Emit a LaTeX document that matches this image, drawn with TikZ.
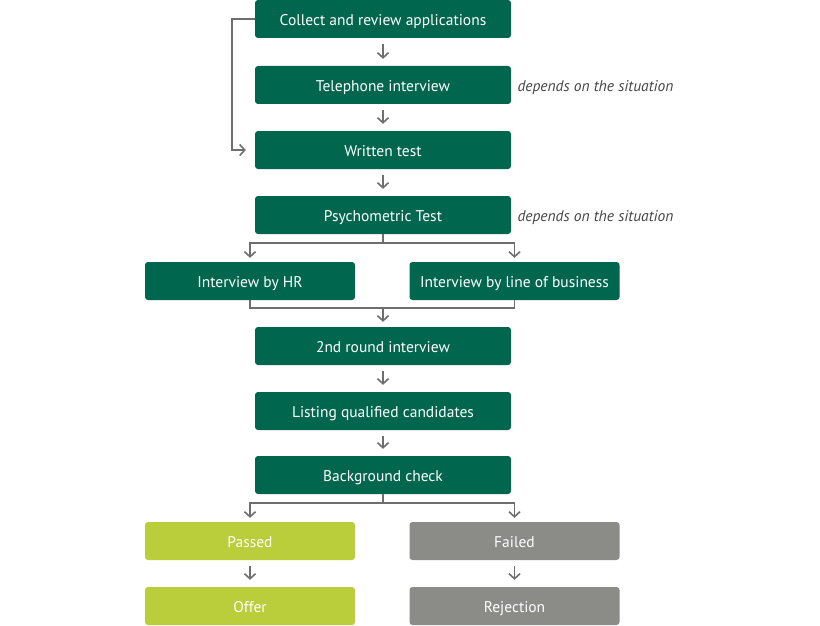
\documentclass[tikz,border=0pt]{standalone}
\usepackage{fontspec}
\setmainfont{PT Sans}
\usetikzlibrary{arrows.meta}
\definecolor{boxgreen}{RGB}{0,102,78}
\definecolor{passgreen}{RGB}{186,205,58}
\definecolor{failgray}{RGB}{139,140,136}
\definecolor{linegray}{RGB}{110,110,110}
\definecolor{notegray}{RGB}{70,70,70}
\begin{document}
\begin{tikzpicture}[x=1pt, y=-1pt]
\tikzstyle{stage} = [fill=boxgreen, text=white, rounded corners=3pt, minimum width=256pt, minimum height=38pt, inner sep=0pt, text height=15pt, text depth=2pt, font=\fontsize{15.5}{18}\selectfont];
\tikzstyle{half} = [stage, minimum width=210pt];
\tikzstyle{pass} = [half, fill=passgreen];
\tikzstyle{fail} = [half, fill=failgray];
\tikzstyle{note} = [anchor=west, text=notegray, text height=15pt, text depth=2pt, font=\fontsize{15.5}{18}\selectfont\itshape];
\tikzstyle{link} = [draw=linegray, line width=1.6pt, -{Straight Barb[length=5pt, width=11pt]}, shorten <=6pt, shorten >=7pt];
\tikzstyle{wire} = [draw=linegray, line width=1.6pt];
\fill[white] (0,0) rectangle (820,626);
\useasboundingbox (0,0) rectangle (820,626);
% main column
\node[stage] (collect) at (383, 19) {Collect and review applications};
\node[stage] (phone) at (383, 85) {Telephone interview};
\node[stage] (written) at (383, 150) {Written test};
\node[stage] (psych) at (383, 215) {Psychometric Test};
\node[half] (hr) at (250, 281) {Interview by HR};
\node[half] (lob) at (514.5, 281) {Interview by line of business};
\node[stage] (second) at (383, 346) {2nd round interview};
\node[stage] (listing) at (383, 411) {Listing qualified candidates};
\node[stage] (check) at (383, 475) {Background check};
\node[pass] (passed) at (250, 541) {Passed};
\node[fail] (failed) at (514.5, 541) {Failed};
\node[pass] (offer) at (250, 606) {Offer};
\node[fail] (reject) at (514.5, 606) {Rejection};
% notes
\node[note] (phonenote) at (514, 85) {depends on the situation};
\node[note] (psychnote) at (514, 215) {depends on the situation};
% junctions
\coordinate (loop) at (232, 19);
\coordinate (split) at (383, 243);
\coordinate (merge) at (383, 308);
\coordinate (fork) at (383, 503);
\draw[link] (collect) -- (phone);
\draw[link] (phone) -- (written);
\draw[link] (written) -- (psych);
\draw[link, shorten <=0pt, shorten >=9pt] (collect.west) -- (loop) |- (written.west);
\draw[wire] (psych.south) -- (split);
\draw[link, shorten <=0pt, shorten >=4pt] (split) -| (hr.north);
\draw[link, shorten <=0pt, shorten >=4pt] (split) -| (lob.north);
\draw[wire] (hr.south) |- (merge);
\draw[wire] (lob.south) |- (merge);
\draw[link, shorten <=0pt, shorten >=5pt] (merge) -- (second.north);
\draw[link] (second) -- (listing);
\draw[link] (listing) -- (check);
\draw[wire] (check.south) -- (fork);
\draw[link, shorten <=0pt, shorten >=4pt] (fork) -| (passed.north);
\draw[link, shorten <=0pt, shorten >=4pt] (fork) -| (failed.north);
\draw[link] (passed) -- (offer);
\draw[link] (failed) -- (reject);
\end{tikzpicture}
\end{document}
